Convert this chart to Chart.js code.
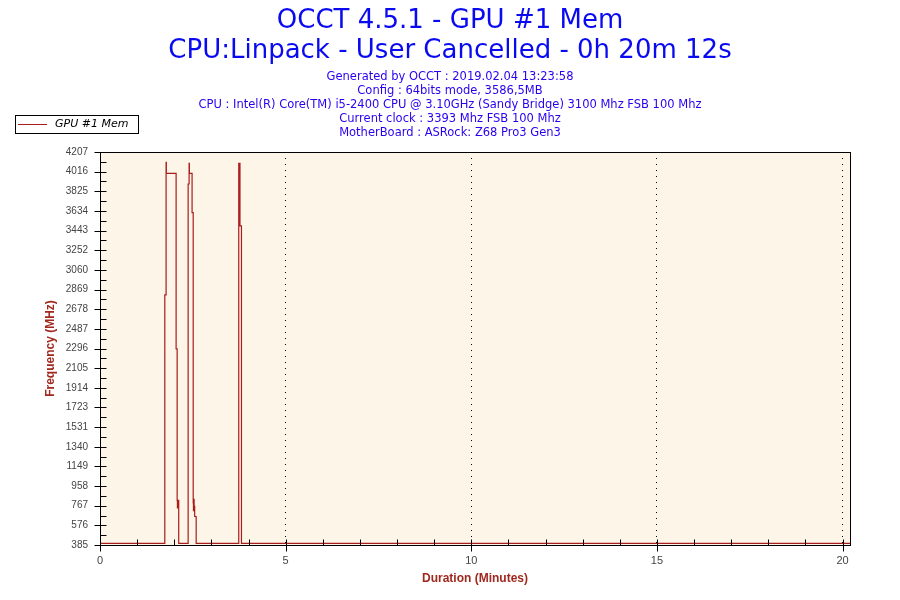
<!DOCTYPE html>
<html>
<head>
<meta charset="utf-8">
<title>OCCT 4.5.1 - GPU #1 Mem</title>
<script src="https://cdn.jsdelivr.net/npm/chart.js@4.4.1/dist/chart.umd.min.js"></script>
<style>
  html, body { margin: 0; padding: 0; background: #ffffff; }
  #wrap { width: 900px; height: 600px; position: relative; }
</style>
</head>
<body>
<div id="wrap"><canvas id="myChart"></canvas></div>
<script>
// samples (minutes, MHz)
const timeMin = [0, 1.745, 1.78, 1.787, 2.05, 2.078, 2.085, 2.092, 2.12,
                 2.374, 2.40, 2.407, 2.48, 2.51, 2.517, 2.524, 2.535, 2.55, 2.59,
                 3.737, 3.77, 3.81, 20.2];
const memMhz = [400, 2817, 4107, 4000, 2292, 816, 747, 820, 400,
                3896, 4097, 4000, 3617, 795, 720, 830, 760, 662, 400,
                4097, 3488, 400, 400];

const yTickValues = [385, 576, 767, 958, 1149, 1340, 1531, 1723, 1914, 2105, 2296,
                     2487, 2678, 2869, 3060, 3252, 3443, 3634, 3825, 4016, 4207];
const xTickValues = [0, 5, 10, 15, 20];

const titleLines = ['OCCT 4.5.1 - GPU #1 Mem', 'CPU:Linpack - User Cancelled - 0h 20m 12s'];
const infoLines = [
    'Generated by OCCT : 2019.02.04 13:23:58',
    'Config : 64bits mode, 3586,5MB',
    'CPU : Intel(R) Core(TM) i5-2400 CPU @ 3.10GHz (Sandy Bridge) 3100 Mhz FSB 100 Mhz',
    'Current clock : 3393 Mhz FSB 100 Mhz',
    'MotherBoard : ASRock: Z68 Pro3 Gen3'
];
const seriesName = 'GPU #1 Mem';

const lineColor = '#a81c1c';
const axisTitleColor = '#a0281e';

// titles, legend box, plot background, border and tick marks
const occtDecor = {
    id: 'occtDecor',
    beforeDraw(chart) {
        const { ctx, chartArea: a } = chart;
        ctx.save();
        ctx.fillStyle = '#fdf6e8';
        ctx.fillRect(a.left, a.top, a.right - a.left, a.bottom - a.top);
        ctx.restore();
    },
    afterDraw(chart) {
        const { ctx, chartArea: a, scales } = chart;
        ctx.save();
        ctx.textAlign = 'center';
        ctx.textBaseline = 'middle';
        ctx.fillStyle = '#0a0af0';
        ctx.font = '26px "DejaVu Sans"';
        ctx.fillText(titleLines[0], 450, 21);
        ctx.fillText(titleLines[1], 450, 51);
        ctx.fillStyle = '#2a00f0';
        ctx.font = '11.5px "DejaVu Sans"';
        infoLines.forEach((t, i) => ctx.fillText(t, 450, 77 + i * 14));

        // legend
        ctx.strokeStyle = '#000';
        ctx.lineWidth = 1;
        ctx.strokeRect(15.5, 115.5, 123, 18);
        ctx.strokeStyle = lineColor;
        ctx.beginPath();
        ctx.moveTo(18, 124.5);
        ctx.lineTo(47, 124.5);
        ctx.stroke();
        ctx.fillStyle = '#000';
        ctx.textAlign = 'left';
        ctx.font = 'italic 11px "DejaVu Sans"';
        ctx.fillText(seriesName, 55, 124.5);

        // border
        ctx.strokeStyle = '#000';
        ctx.strokeRect(Math.round(a.left) + 0.5, Math.round(a.top) + 0.5,
            Math.round(a.right - a.left), Math.round(a.bottom - a.top));

        // tick marks
        const x = scales.x, y = scales.y;
        const ax = Math.round(a.left) + 0.5, ay = Math.round(a.bottom) + 0.5;
        ctx.beginPath();
        yTickValues.forEach((v, i) => {
            const py = Math.round(y.getPixelForValue(v)) + 0.5;
            ctx.moveTo(ax - 6, py); ctx.lineTo(ax + 6, py);
            if (i < yTickValues.length - 1) {
                const pm = Math.round(y.getPixelForValue((v + yTickValues[i + 1]) / 2)) + 0.5;
                ctx.moveTo(ax, pm); ctx.lineTo(ax + 6, pm);
            }
        });
        for (let m = 0; m <= 20; m++) {
            const px = Math.round(x.getPixelForValue(m)) + 0.5;
            if (m % 5 === 0) { ctx.moveTo(px, ay - 6); ctx.lineTo(px, ay + 6); }
            else { ctx.moveTo(px, ay - 6); ctx.lineTo(px, ay); }
        }
        ctx.stroke();
        ctx.restore();
    }
};

const data = {
    datasets: [{
        label: seriesName,
        data: timeMin.map((t, i) => ({ x: t, y: memMhz[i] })),
        borderColor: lineColor,
        backgroundColor: lineColor,
        borderWidth: 1.2,
        pointRadius: 0,
        stepped: 'before',
        fill: false
    }]
};

const config = {
    type: 'line',
    data: data,
    options: {
        responsive: true,
        maintainAspectRatio: false,
        devicePixelRatio: 1,
        animation: false,
        events: [],
        layout: { padding: { top: 152, right: 50, left: 0, bottom: 0 } },
        plugins: {
            legend: { display: false },
            title: { display: false },
            tooltip: { enabled: false }
        },
        scales: {
            x: {
                type: 'linear',
                min: 0,
                max: 20.2,
                afterBuildTicks: (s) => { s.ticks = xTickValues.map(v => ({ value: v })); },
                afterFit: (s) => { s.height = 55; },
                grid: { color: (c) => c.tick && c.tick.value > 0 ? '#000' : 'rgba(0,0,0,0)', drawTicks: false, lineWidth: 1 },
                border: { display: false, dash: [1, 5] },
                ticks: { color: '#444', font: { family: 'Liberation Sans', size: 11 }, padding: 9, maxRotation: 0 },
                title: {
                    display: true, text: 'Duration (Minutes)', color: axisTitleColor,
                    font: { family: 'Liberation Sans', size: 12, weight: 'bold' },
                    padding: { top: 14, bottom: 14 }
                }
            },
            y: {
                min: 385,
                max: 4207,
                afterBuildTicks: (s) => { s.ticks = yTickValues.map(v => ({ value: v })); },
                afterFit: (s) => { s.width = 100; },
                grid: { display: false },
                border: { display: false },
                ticks: { color: '#444', font: { family: 'Liberation Sans', size: 10 }, padding: 4, callback: (v) => String(v) },
                title: {
                    display: true, text: 'Frequency (MHz)', color: axisTitleColor,
                    font: { family: 'Liberation Sans', size: 12, weight: 'bold' },
                    padding: { top: 43, bottom: 43 }
                }
            }
        }
    },
    plugins: [occtDecor]
};

document.addEventListener('DOMContentLoaded', () => {
    new Chart(document.getElementById('myChart'), config);
});
</script>
</body>
</html>
